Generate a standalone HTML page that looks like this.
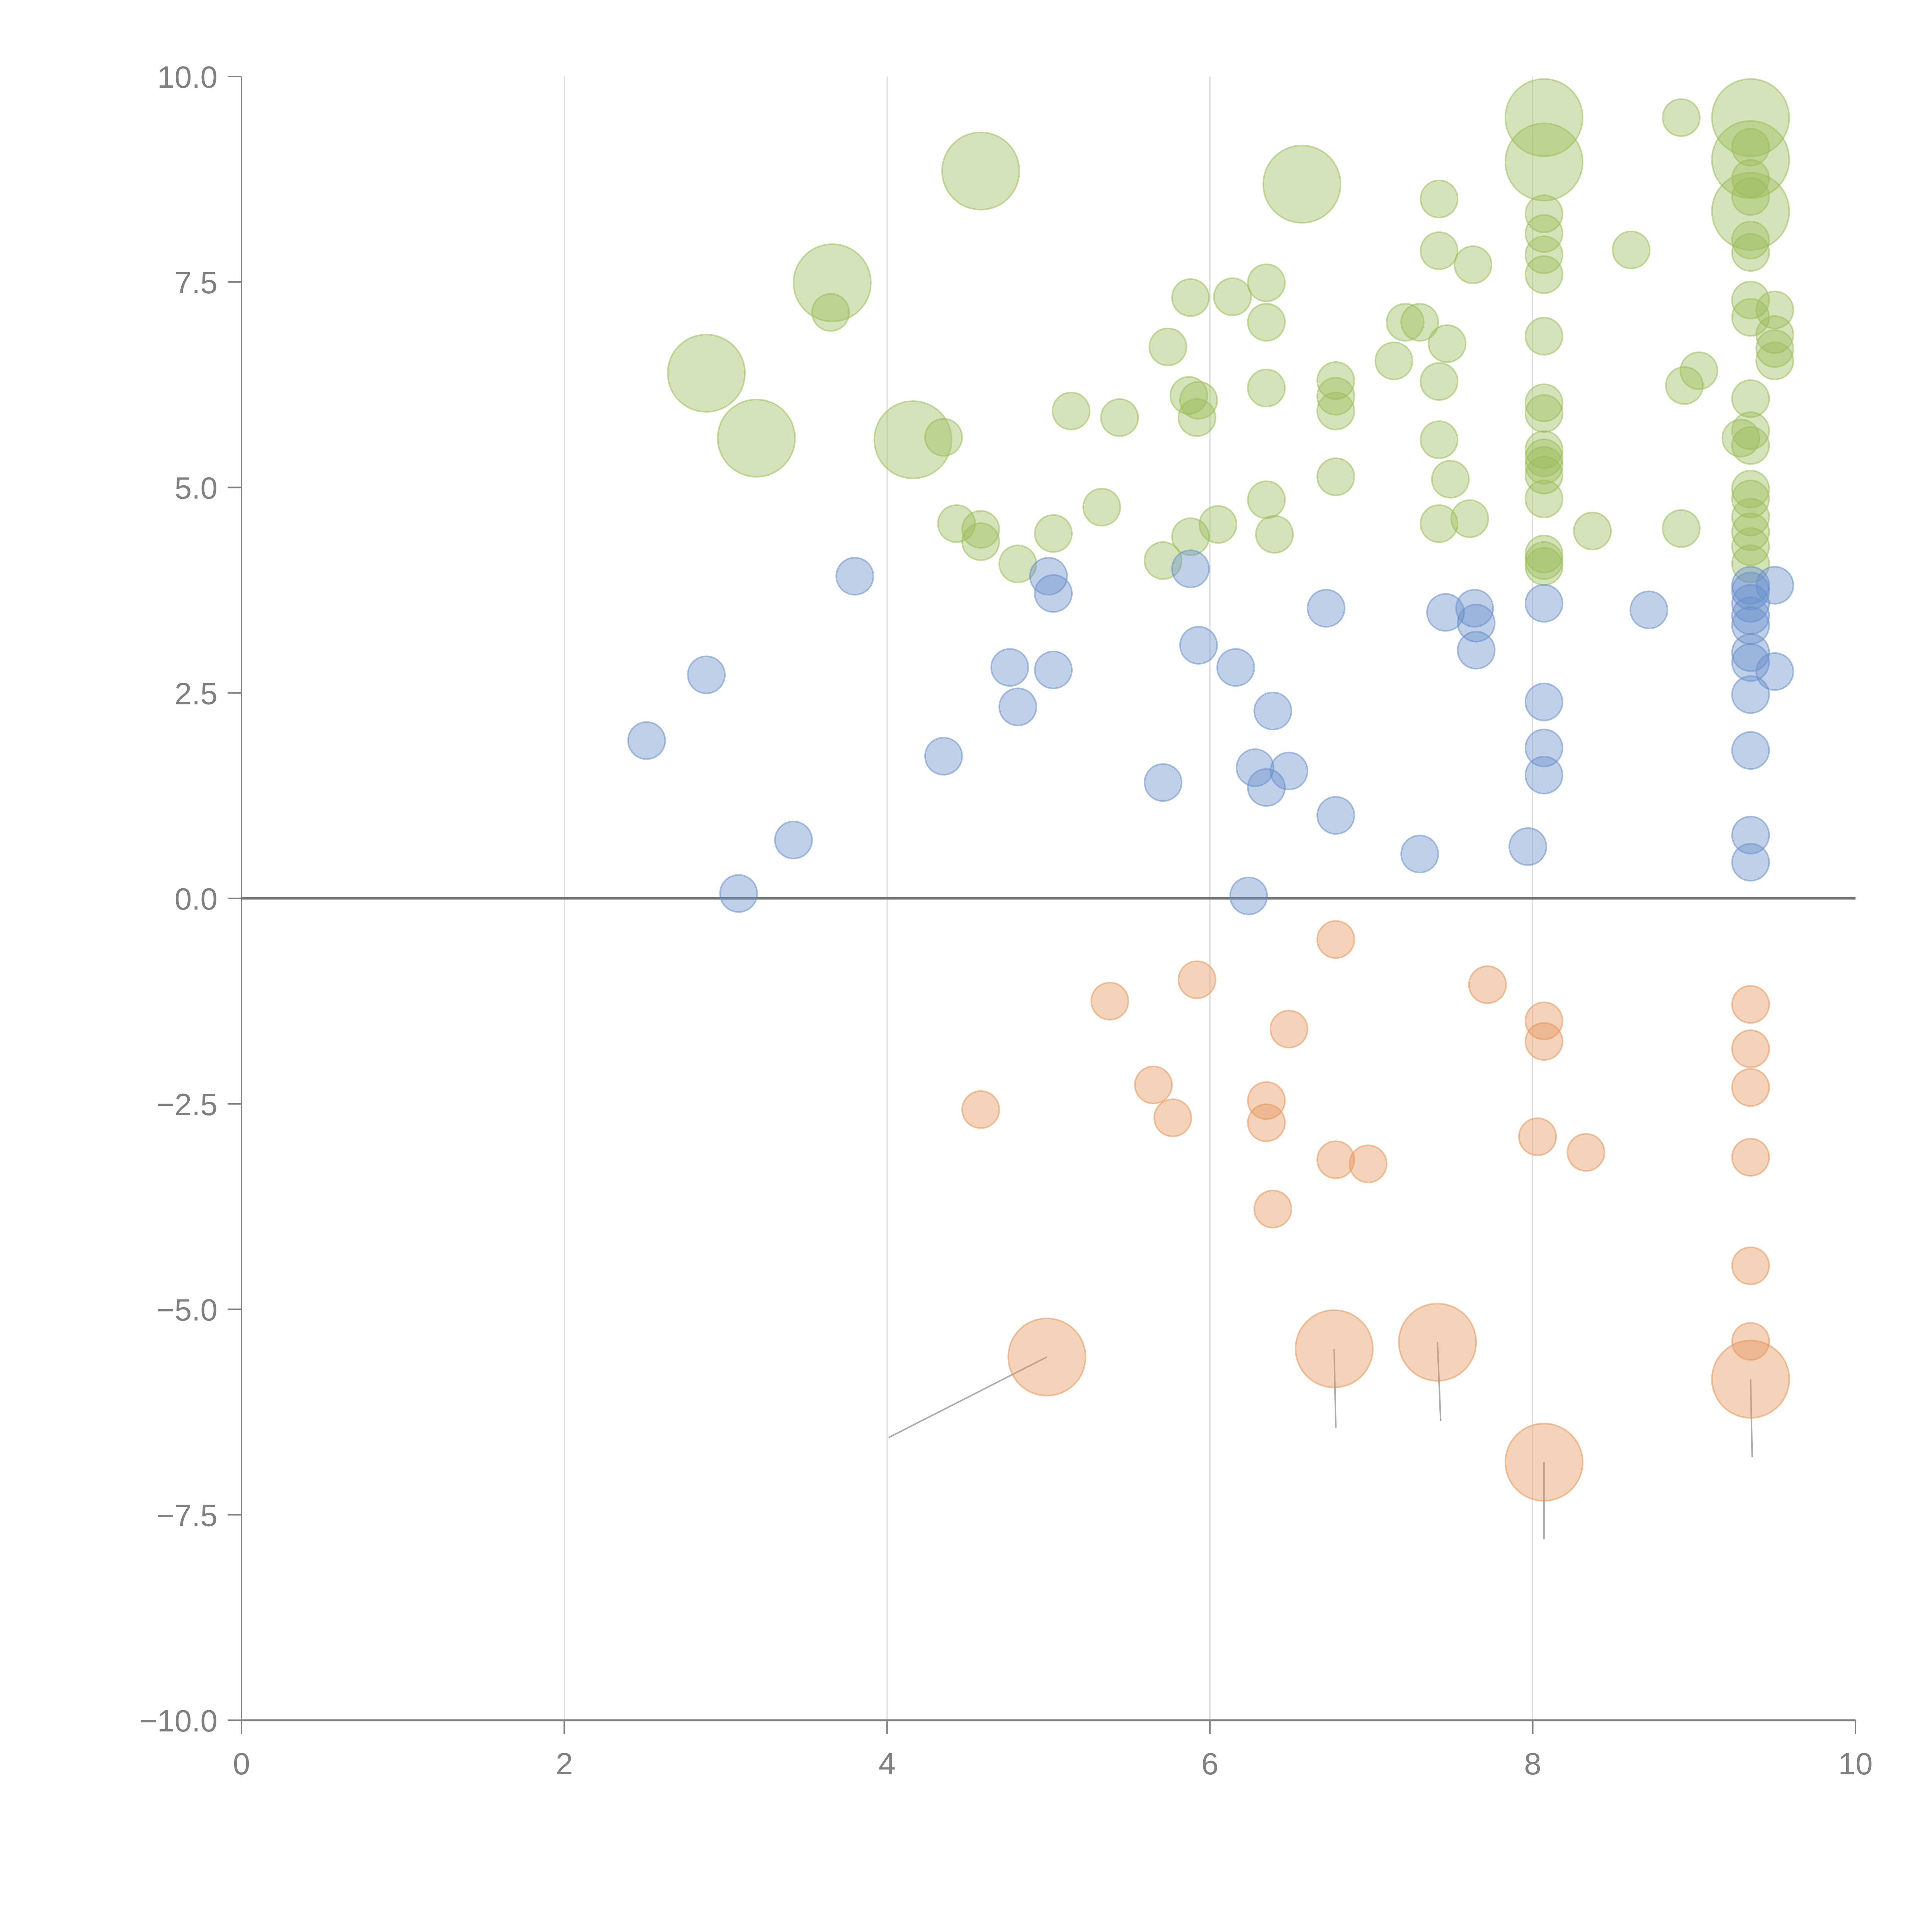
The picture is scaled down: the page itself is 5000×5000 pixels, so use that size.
<!DOCTYPE html>
<html><head><meta charset="utf-8"><style>
html,body{margin:0;padding:0;background:#fff;}
svg{display:block;}
text{font-family:"Liberation Sans",sans-serif;fill:#808080;}
</style></head><body>
<svg id="chart" width="5000" height="5000" viewBox="0 0 5000 5000" xmlns="http://www.w3.org/2000/svg">
<g id="grid"></g>
<g id="axes"></g>
<g id="leaders"></g>
<g id="marks"></g>
</svg>
<script>
const xTicks=[0,2,4,6,8,10];
const yTicks=[-10,-7.5,-5,-2.5,0,2.5,5,7.5,10];
const yTickLabels=["−10.0","−7.5","−5.0","−2.5","0.0","2.5","5.0","7.5","10.0"];
const blueX=[2.51,2.88,3.08,3.42,3.80,4.35,4.76,4.81,5.00,5.03,5.03,5.71,5.88,5.93,6.16,6.24,6.28,6.35,6.39,6.49,6.72,6.78,7.30,7.46,7.64,7.65,7.65,7.97,8.07,8.07,8.07,8.07,8.72,9.35,9.35,9.35,9.35,9.35,9.35,9.35,9.35,9.35,9.35,9.35,9.50,9.50];
const blueY=[1.92,2.72,0.06,0.71,3.92,1.73,2.81,2.33,3.92,3.71,2.78,1.41,4.01,3.08,2.81,0.03,1.59,1.35,2.28,1.55,3.53,1.01,0.54,3.48,3.53,3.35,3.02,0.63,3.59,2.39,1.83,1.50,3.51,3.81,3.74,3.59,3.44,3.32,2.99,2.87,2.48,1.80,0.77,0.44,3.81,2.76];
const orangeX=[6.78,5.38,5.92,6.49,7.72,5.65,5.77,4.58,6.35,6.35,6.78,6.98,6.39,8.07,8.07,8.03,8.33,9.35,9.35,9.35,9.35,9.35,9.35];
const orangeY=[-0.50,-1.25,-0.99,-1.59,-1.05,-2.27,-2.67,-2.57,-2.46,-2.73,-3.18,-3.23,-3.78,-1.49,-1.74,-2.90,-3.09,-1.29,-1.83,-2.30,-3.15,-4.47,-5.39];
const orangeBigX=[4.99,6.77,7.41,8.07,9.35];
const orangeBigY=[-5.58,-5.48,-5.40,-6.86,-5.85];
const orangeLabelX=[4.01,6.78,7.43,8.07,9.36];
const orangeLabelY=[-6.56,-6.44,-6.36,-7.80,-6.80];
const greenX=[3.65,4.35,4.43,4.58,4.58,4.81,5.03,5.14,5.33,5.44,5.71,5.74,5.88,5.87,5.93,5.92,5.88,6.05,6.14,6.35,6.35,6.35,6.35,6.40,6.78,6.78,6.78,6.78,7.14,7.21,7.30,7.42,7.42,7.47,7.42,7.42,7.49,7.42,7.61,7.63,8.07,8.07,8.07,8.07,8.07,8.07,8.07,8.07,8.07,8.07,8.07,8.07,8.07,8.07,8.07,8.37,8.61,8.92,8.94,8.92,9.03,9.29,9.35,9.35,9.35,9.35,9.35,9.35,9.35,9.35,9.35,9.35,9.35,9.35,9.35,9.35,9.35,9.35,9.50,9.50,9.50,9.50];
const greenY=[7.13,5.61,4.56,4.49,4.34,4.07,4.44,5.93,4.76,5.85,4.11,6.71,7.31,6.12,6.06,5.85,4.40,4.55,7.32,7.49,7.01,6.21,4.85,4.43,6.30,6.11,5.93,5.13,6.54,7.01,7.01,8.51,7.88,6.75,6.29,5.58,5.10,4.56,4.62,7.71,8.33,8.09,7.83,7.59,6.84,6.03,5.90,5.46,5.36,5.27,5.15,4.86,4.19,4.11,4.04,4.47,7.89,9.50,6.24,4.50,6.42,5.60,9.14,8.76,8.54,8.01,7.86,7.28,7.07,6.08,5.69,5.51,4.98,4.86,4.64,4.46,4.28,4.07,7.16,6.86,6.69,6.54];
const greenBigX=[2.88,3.19,3.66,4.16,4.58,6.57,8.07,8.07,9.35,9.35,9.35];
const greenBigY=[6.39,5.60,7.49,5.58,8.85,8.69,9.50,8.96,9.50,8.99,8.36];

const X0=625,X1=4802,Y0=4452,Y1=198;
const sx=v=>X0+(v-0)/(10-0)*(X1-X0);
const sy=v=>Y0-(v+10)/20*(Y0-Y1);
const NS="http://www.w3.org/2000/svg";
function mk(tag,parent,attrs){const e=document.createElementNS(NS,tag);for(const k in attrs)e.setAttribute(k,attrs[k]);parent.appendChild(e);return e;}
const grid=document.getElementById('grid'),axes=document.getElementById('axes'),leaders=document.getElementById('leaders'),marks=document.getElementById('marks');

xTicks.forEach(t=>{
  if(t>0&&t<10){const g=mk('line',grid,{x1:sx(t),x2:sx(t),y1:Y1,y2:Y0,stroke:'#dcdcdc','stroke-width':3});
  
  }
  const tk=mk('line',axes,{x1:sx(t),x2:sx(t),y1:Y0,y2:Y0+36,stroke:'#808080','stroke-width':4});
  
  
  const tx=mk('text',axes,{x:sx(t),y:Y0+140,'text-anchor':'middle','font-size':80});
  tx.textContent=String(t);
  
  
});
yTicks.forEach((t,i)=>{
  const tk=mk('line',axes,{x1:X0-36,x2:X0,y1:sy(t),y2:sy(t),stroke:'#808080','stroke-width':4});
  
  
  const tx=mk('text',axes,{x:X0-62,y:sy(t)+29,'text-anchor':'end','font-size':80});
  tx.textContent=yTickLabels[i];
  
  
});
const ya=mk('line',axes,{x1:X0,x2:X0,y1:Y1,y2:Y0,stroke:'#808080','stroke-width':4});


const xa=mk('line',axes,{x1:X0,x2:X1,y1:Y0,y2:Y0,stroke:'#808080','stroke-width':5});


const zl=mk('line',axes,{x1:X0,x2:X1,y1:sy(0),y2:sy(0),stroke:'#777','stroke-width':6});



function dots(xs,ys,r,fill,name){
  xs.forEach((x,i)=>{
    const c=mk('circle',marks,{cx:sx(x),cy:sy(ys[i]),r:r,fill:fill,'fill-opacity':0.42,stroke:fill,'stroke-opacity':0.55,'stroke-width':4});
    
    
  });
}
orangeBigX.forEach((x,i)=>{
  const l=mk('line',leaders,{x1:sx(x),y1:sy(orangeBigY[i]),x2:sx(orangeLabelX[i]),y2:sy(orangeLabelY[i]),stroke:'#999','stroke-width':4,'stroke-opacity':0.8});
  
  
});
dots(greenX,greenY,48,'#9cbd5a','green-bubble');
dots(greenBigX,greenBigY,100,'#9cbd5a','green-large-bubble');
dots(blueX,blueY,48,'#6a8fcb','blue-bubble');
dots(orangeX,orangeY,48,'#e5955a','orange-bubble');
dots(orangeBigX,orangeBigY,100,'#e5955a','orange-large-bubble');
</script>
</body></html>
